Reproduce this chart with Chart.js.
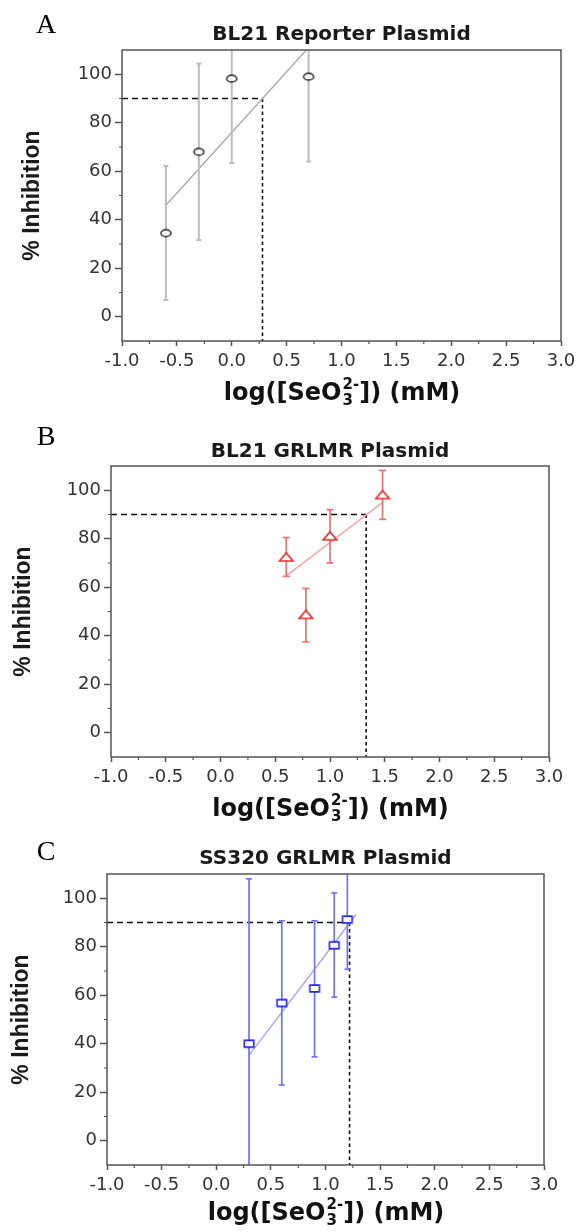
<!DOCTYPE html>
<html>
<head>
<title>% Inhibition vs log([SeO3 2-])</title>
<style>
  body { margin: 0; background: #fff; }
  .panel { position: absolute; left: 0; width: 579px; }
</style>
<script src="https://cdn.jsdelivr.net/npm/chart.js"></script>
</head>
<body>
<div class="panel" style="top:0px;height:410px"><canvas id="chartA"></canvas></div>
<div class="panel" style="top:410px;height:420px"><canvas id="chartB"></canvas></div>
<div class="panel" style="top:830px;height:402px"><canvas id="chartC"></canvas></div>
<script>
// axes shared by the three panels
const xMin = -1, xMax = 3;
const yMin = -10, yMax = 110;
const xTicks = [-1, -0.5, 0, 0.5, 1, 1.5, 2, 2.5, 3];
const xMinorTicks = [-0.75, -0.25, 0.25, 0.75, 1.25, 1.75, 2.25, 2.75];
const yTicks = [0, 20, 40, 60, 80, 100];
const yMinorTicks = [10, 30, 50, 70, 90];
const target = 90;

// A - BL21 Reporter Plasmid
const titleA = 'BL21 Reporter Plasmid';
const logA = [-0.6, -0.3, 0.0, 0.7];
const inhA = [34.5, 68, 98.2, 99];
const lowA = [6.9, 31.6, 63.3, 64];
const highA = [62.2, 104.4, 133, 134];
const fitXA = [-0.6, 0.7];
const fitYA = [46, 111];
const ic90A = 0.28;

// B - BL21 GRLMR Plasmid
const titleB = 'BL21 GRLMR Plasmid';
const logB = [0.6, 0.78, 1.0, 1.48];
const inhB = [72.5, 48.8, 81.2, 98.2];
const lowB = [64.5, 37.5, 70, 88];
const highB = [80.5, 59.5, 92, 108.2];
const fitXB = [0.6, 1.48];
const fitYB = [64.7, 95];
const ic90B = 1.33;

// C - SS320 GRLMR Plasmid
const titleC = 'SS320 GRLMR Plasmid';
const logC = [0.3, 0.6, 0.9, 1.08, 1.2];
const inhC = [40, 56.8, 62.8, 80.6, 91.2];
const lowC = [-28, 23, 34.6, 59.2, 70.7];
const highC = [108, 90.7, 90.7, 102.2, 112];
const fitXC = [0.3, 1.28];
const fitYC = [35.2, 93.3];
const ic90C = 1.22;

const panels = [
  {id: 'chartA', letter: 'A', title: titleA, x: logA, y: inhA, lo: lowA, hi: highA, fitX: fitXA, fitY: fitYA, ic: ic90A,
   marker: 'circle', mw: 10, mh: 6.8, markColor: '#383838', barColor: '#bdbdbd', fitColor: '#aaaaaa', capR: 2.5, barW: 2,
   axisW: 122, padRight: 18, titlePad: {top: 23, bottom: 3}, axisH: 69, yTitlePad: 19, letterY: 33, xTitleDy: 53},
  {id: 'chartB', letter: 'B', title: titleB, x: logB, y: inhB, lo: lowB, hi: highB, fitX: fitXB, fitY: fitYB, ic: ic90B,
   marker: 'triangle', mw: 13.5, mh: 8, markColor: '#e82828', barColor: '#f07070', fitColor: '#f6a4a4', capR: 3.5, barW: 1.7,
   axisW: 111, padRight: 30, titlePad: {top: 29.7, bottom: 2.3}, axisH: 73, yTitlePad: 10, letterY: 35, xTitleDy: 53},
  {id: 'chartC', letter: 'C', title: titleC, x: logC, y: inhC, lo: lowC, hi: highC, fitX: fitXC, fitY: fitYC, ic: ic90C,
   marker: 'rect', mw: 9.5, mh: 6.8, markColor: '#2626e6', barColor: '#7373f0', fitColor: '#a6a6f5', capR: 3, barW: 1.7,
   axisW: 107, padRight: 35, titlePad: {top: 17.2, bottom: 2.8}, axisH: 67, yTitlePad: 8, letterY: 30, xTitleDy: 49}
];

// open marker drawn a bit wider than tall, like the original figure
function makeMarker(shape, w, h, color) {
  const c = document.createElement('canvas');
  c.width = Math.ceil(w + 4);
  c.height = Math.ceil(h + 4);
  const g = c.getContext('2d');
  const cx = c.width / 2, cy = c.height / 2;
  g.strokeStyle = color;
  g.fillStyle = '#fff';
  g.lineWidth = 1.6;
  g.beginPath();
  if (shape === 'circle') {
    g.ellipse(cx, cy, w / 2, h / 2, 0, 0, 2 * Math.PI);
  } else if (shape === 'triangle') {
    g.moveTo(cx, cy - h / 2);
    g.lineTo(cx + w / 2, cy + h / 2);
    g.lineTo(cx - w / 2, cy + h / 2);
    g.closePath();
  } else {
    g.rect(cx - w / 2, cy - h / 2, w, h);
  }
  g.fill();
  g.stroke();
  return c;
}

// box around the plot, minor ticks, panel letter and the x title with sub/superscript
const frame = {
  id: 'frame',
  afterDraw(chart, args, o) {
    const {ctx, chartArea: a} = chart;
    const sx = chart.scales.x, sy = chart.scales.y;
    ctx.save();
    ctx.strokeStyle = '#555';
    ctx.lineWidth = 1.5;
    ctx.strokeRect(a.left, a.top, a.right - a.left, a.bottom - a.top);

    ctx.lineWidth = 1.2;
    ctx.beginPath();
    xMinorTicks.forEach(v => {
      const px = sx.getPixelForValue(v);
      ctx.moveTo(px, a.bottom);
      ctx.lineTo(px, a.bottom + 3);
    });
    yMinorTicks.forEach(v => {
      const py = sy.getPixelForValue(v);
      ctx.moveTo(a.left, py);
      ctx.lineTo(a.left - 3, py);
    });
    ctx.stroke();

    ctx.fillStyle = '#000';
    ctx.font = '28px "Liberation Serif"';
    ctx.textAlign = 'center';
    ctx.textBaseline = 'alphabetic';
    ctx.fillText(o.letter, 46, o.letterY);

    // log([SeO3 2-]) (mM)
    const big = 'bold 24px "DejaVu Sans"', small = 'bold 15px "DejaVu Sans"';
    ctx.font = big;
    const w1 = ctx.measureText('log([SeO').width;
    const w3 = ctx.measureText(']) (mM)').width;
    ctx.font = small;
    const w2 = Math.max(ctx.measureText('3').width, ctx.measureText('2-').width);
    const cy = a.bottom + o.xTitleDy;
    let x = (a.left + a.right) / 2 - (w1 + w2 + w3) / 2;
    ctx.fillStyle = '#111';
    ctx.textAlign = 'left';
    ctx.textBaseline = 'middle';
    ctx.font = big;
    ctx.fillText('log([SeO', x, cy);
    x += w1;
    ctx.font = small;
    ctx.fillText('3', x + 1, cy + 7);
    ctx.fillText('2-', x + 1, cy - 9);
    x += w2 + 1;
    ctx.font = big;
    ctx.fillText(']) (mM)', x, cy);
    ctx.restore();
  }
};

function buildPanel(p) {
  const points = p.x.map((x, i) => ({x: x, y: p.y[i]}));
  const bars = [];
  p.x.forEach((x, i) => {
    bars.push({x: x, y: p.lo[i]}, {x: x, y: p.hi[i]}, {x: x, y: null});
  });
  const fit = p.fitX.map((x, i) => ({x: x, y: p.fitY[i]}));
  const guideH = [{x: xMin, y: target}, {x: p.ic, y: target}];
  const guideV = [{x: p.ic, y: target}, {x: p.ic, y: yMin}];
  const tickFont = {family: 'DejaVu Sans', size: 18};

  new Chart(document.getElementById(p.id), {
    type: 'scatter',
    data: {
      datasets: [
        {data: points, order: 0, pointStyle: makeMarker(p.marker, p.mw, p.mh, p.markColor), pointRadius: 5},
        {data: bars, order: 1, showLine: true, spanGaps: false, borderColor: p.barColor, borderWidth: p.barW,
         pointStyle: 'line', pointRadius: p.capR, pointBorderColor: p.barColor, pointBorderWidth: p.barW},
        {data: fit, order: 2, showLine: true, borderColor: p.fitColor, borderWidth: 1.4, pointRadius: 0},
        {data: guideH, order: 3, showLine: true, borderColor: '#111', borderWidth: 1.5, borderDash: [6, 4], pointRadius: 0},
        {data: guideV, order: 3, showLine: true, borderColor: '#111', borderWidth: 1.6, borderDash: [3.5, 3], pointRadius: 0}
      ]
    },
    options: {
      responsive: true,
      maintainAspectRatio: false,
      animation: false,
      events: [],
      layout: {padding: {left: 0, right: p.padRight, top: 0, bottom: 0}},
      plugins: {
        legend: {display: false},
        tooltip: {enabled: false},
        title: {display: true, text: p.title, fullSize: false, color: '#1a1a1a',
                font: {family: 'DejaVu Sans', size: 20, weight: 'bold'}, padding: p.titlePad},
        frame: {letter: p.letter, letterY: p.letterY, xTitleDy: p.xTitleDy}
      },
      scales: {
        x: {
          type: 'linear', min: xMin, max: xMax,
          afterBuildTicks: s => { s.ticks = xTicks.map(v => ({value: v})); },
          afterFit: s => { s.height = p.axisH; s.paddingLeft = 0; s.paddingRight = 0; },
          ticks: {callback: v => v.toFixed(1), font: tickFont, color: '#333', padding: 5, autoSkip: false, maxRotation: 0},
          grid: {drawOnChartArea: false, tickLength: 5, tickColor: '#555', tickWidth: 1.5},
          border: {display: false}
        },
        y: {
          type: 'linear', min: yMin, max: yMax,
          afterBuildTicks: s => { s.ticks = yTicks.map(v => ({value: v})); },
          afterFit: s => { s.width = p.axisW; s.paddingTop = 0; s.paddingBottom = 0; },
          ticks: {font: tickFont, color: '#333', padding: 3},
          grid: {drawOnChartArea: false, tickLength: 7, tickColor: '#555', tickWidth: 1.5},
          border: {display: false},
          title: {display: true, text: '% Inhibition', color: '#1a1a1a',
                  font: {family: 'Liberation Sans', size: 23, weight: 'bold'}, padding: {top: p.yTitlePad, bottom: 0}}
        }
      }
    },
    plugins: [frame]
  });
}

panels.forEach(buildPanel);
</script>
</body>
</html>
